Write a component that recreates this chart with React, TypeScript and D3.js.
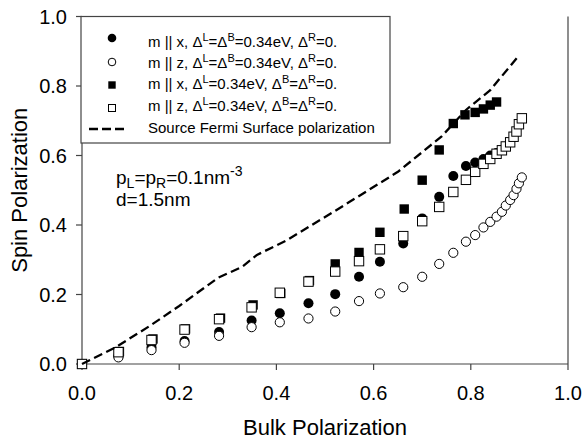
import React from "react";
import * as d3 from "d3";

const xTicks = [0, 0.2, 0.4, 0.6, 0.8, 1.0];
const yTicks = [0, 0.2, 0.4, 0.6, 0.8, 1.0];

const xEarly = [0, 0.075, 0.143, 0.211, 0.282, 0.349, 0.407, 0.466, 0.521, 0.57, 0.613, 0.661, 0.7, 0.735];
const xTail = [0.764, 0.79, 0.809, 0.826, 0.84, 0.853, 0.864, 0.872, 0.881, 0.888, 0.894, 0.899, 0.905];

const xFilledCircle = [...xEarly, ...xTail.slice(0, 6)];
const yFilledCircle = [0, 0.024, 0.048, 0.066, 0.092, 0.125, 0.146, 0.175, 0.201, 0.251, 0.294, 0.347, 0.419, 0.481, 0.541, 0.57, 0.58, 0.59, 0.6, 0.607];

const xOpenCircle = [...xEarly, ...xTail];
const yOpenCircle = [0, 0.019, 0.04, 0.061, 0.081, 0.106, 0.12, 0.131, 0.151, 0.181, 0.203, 0.221, 0.251, 0.288, 0.32, 0.352, 0.371, 0.393, 0.409, 0.424, 0.438, 0.456, 0.472, 0.486, 0.504, 0.52, 0.537];

const xFilledSquare = [0, 0.077, 0.146, 0.213, 0.285, 0.352, 0.409, 0.468, 0.521, 0.57, 0.613, 0.663, 0.7, 0.735, 0.764, 0.788, 0.809, 0.826, 0.84, 0.853];
const yFilledSquare = [0, 0.036, 0.072, 0.101, 0.132, 0.17, 0.203, 0.24, 0.288, 0.321, 0.379, 0.446, 0.529, 0.616, 0.692, 0.717, 0.724, 0.734, 0.745, 0.754];

const xOpenSquare = [...xEarly, ...xTail];
const yOpenSquare = [0, 0.034, 0.069, 0.099, 0.129, 0.163, 0.205, 0.237, 0.266, 0.296, 0.33, 0.368, 0.411, 0.452, 0.495, 0.53, 0.553, 0.576, 0.59, 0.605, 0.615, 0.626, 0.638, 0.654, 0.669, 0.69, 0.707];

const xFermi = [0, 0.068, 0.14, 0.2, 0.28, 0.33, 0.36, 0.42, 0.52, 0.65, 0.74, 0.79, 0.84, 0.86, 0.9];
const yFermi = [0, 0.047, 0.11, 0.167, 0.248, 0.28, 0.314, 0.355, 0.44, 0.553, 0.655, 0.731, 0.788, 0.822, 0.889];

// legend labels as [text, superscript?] segments
const legendLabels: [string, boolean][][] = [
  [["m || x, Δ", false], ["L", true], ["=Δ", false], ["B", true], ["=0.34eV, Δ", false], ["R", true], ["=0.", false]],
  [["m || z, Δ", false], ["L", true], ["=Δ", false], ["B", true], ["=0.34eV, Δ", false], ["R", true], ["=0.", false]],
  [["m || x, Δ", false], ["L", true], ["=0.34eV, Δ", false], ["B", true], ["=Δ", false], ["R", true], ["=0.", false]],
  [["m || z, Δ", false], ["L", true], ["=0.34eV, Δ", false], ["B", true], ["=Δ", false], ["R", true], ["=0.", false]],
  [["Source Fermi Surface polarization", false]],
];

const W = 584;
const H = 439;
const L = 82, R = 568, T = 16.5, B = 364;
const FONT = "'Liberation Sans', Arial, sans-serif";

const zip = (xs: number[], ys: number[]) => xs.map((x, i) => [x, ys[i]] as [number, number]);

export default function App() {
  const x = d3.scaleLinear().domain([0, 1]).range([L, R]);
  const y = d3.scaleLinear().domain([0, 1]).range([B, T]);
  const line = d3.line<[number, number]>().x(d => x(d[0])).y(d => y(d[1]));

  const fc = zip(xFilledCircle, yFilledCircle);
  const oc = zip(xOpenCircle, yOpenCircle);
  const fs = zip(xFilledSquare, yFilledSquare);
  const os = zip(xOpenSquare, yOpenSquare);
  const fermi = zip(xFermi, yFermi);

  const sq = 9.4;
  const axisColor = "#444";

  const legendRows = [
    { my: 38, ty: 47 },
    { my: 62, ty: 68 },
    { my: 85, ty: 89 },
    { my: 108, ty: 111 },
    { my: 129, ty: 133 },
  ];
  const lx = 112, tx = 148, lf = 15, sf = 11, shift = 6;

  const renderSegs = (segs: [string, boolean][]) => {
    let prev = false;
    return segs.map(([s, sup], i) => {
      const dy = sup === prev ? 0 : sup ? -shift : shift;
      prev = sup;
      return (
        <tspan key={i} dy={dy} fontSize={sup ? sf : lf}>{s}</tspan>
      );
    });
  };

  return (
    <svg width={W} height={H} style={{ position: "absolute", left: 0, top: 0, background: "#fff" }} fontFamily={FONT}>
      <rect x={0} y={0} width={W} height={H} fill="#fff" />
      {/* axes */}
      <line x1={L} y1={T} x2={L} y2={B} stroke={axisColor} strokeWidth={1.2} />
      <line x1={L} y1={B} x2={R} y2={B} stroke={axisColor} strokeWidth={1.2} />
      <line x1={R} y1={T} x2={R} y2={B} stroke={axisColor} strokeWidth={1.2} />
      {xTicks.map(t => (
        <g key={"xt" + t}>
          <line x1={x(t)} x2={x(t)} y1={B} y2={B + 6} stroke={axisColor} strokeWidth={1.2} />
          <text x={x(t)} y={400} fontSize={20} textAnchor="middle" fill="#000">{t.toFixed(1)}</text>
        </g>
      ))}
      {yTicks.map(t => (
        <g key={"yt" + t}>
          <line x1={L - 6} x2={L} y1={y(t)} y2={y(t)} stroke={axisColor} strokeWidth={1.2} />
          <text x={67} y={y(t) + 7} fontSize={20} textAnchor="end" fill="#000">{t.toFixed(1)}</text>
        </g>
      ))}
      <text x={(L + R) / 2} y={435} fontSize={22} textAnchor="middle" fill="#000">Bulk Polarization</text>
      <text transform={`translate(27,${(T + B) / 2}) rotate(-90)`} fontSize={22} textAnchor="middle" fill="#000">Spin Polarization</text>

      {/* data */}
      {fc.map((d, i) => (
        <circle key={"fc" + i} cx={x(d[0])} cy={y(d[1])} r={5} fill="#000" />
      ))}
      {oc.map((d, i) => (
        <circle key={"oc" + i} cx={x(d[0])} cy={y(d[1])} r={4.6} fill="#fff" stroke="#000" strokeWidth={1} />
      ))}
      {fs.map((d, i) => (
        <rect key={"fs" + i} x={x(d[0]) - sq / 2} y={y(d[1]) - sq / 2} width={sq} height={sq} fill="#000" />
      ))}
      {os.map((d, i) => (
        <rect key={"os" + i} x={x(d[0]) - sq / 2} y={y(d[1]) - sq / 2} width={sq} height={sq} fill="#fff" stroke="#000" strokeWidth={1} />
      ))}
      <path d={line(fermi) || ""} fill="none" stroke="#000" strokeWidth={2.3} strokeDasharray="9,4.5" />

      {/* legend */}
      <rect x={81} y={T} width={309} height={143 - T} fill="#fff" stroke={axisColor} strokeWidth={1.2} />
      <circle cx={lx} cy={legendRows[0].my} r={4.3} fill="#000" />
      <circle cx={lx} cy={legendRows[1].my} r={3.8} fill="#fff" stroke="#000" strokeWidth={1} />
      <rect x={lx - 3.7} y={legendRows[2].my - 3.7} width={7.4} height={7.4} fill="#000" />
      <rect x={lx - 3.5} y={legendRows[3].my - 3.5} width={7} height={7} fill="#fff" stroke="#000" strokeWidth={1} />
      <line x1={89} x2={128} y1={legendRows[4].my} y2={legendRows[4].my} stroke="#000" strokeWidth={2.3} strokeDasharray="9,4" />

      {legendLabels.map((segs, i) => (
        <text key={"lg" + i} x={tx} y={legendRows[i].ty} fontSize={lf} fill="#000">
          {renderSegs(segs)}
        </text>
      ))}

      {/* annotation */}
      <text x={116} y={184} fontSize={19} fill="#000">
        <tspan>p</tspan><tspan dy={4} fontSize={14}>L</tspan><tspan dy={-4}>=p</tspan><tspan dy={4} fontSize={14}>R</tspan><tspan dy={-4}>=0.1nm</tspan><tspan dy={-8} fontSize={14}>-3</tspan>
      </text>
      <text x={116} y={206} fontSize={19} fill="#000">d=1.5nm</text>
    </svg>
  );
}
